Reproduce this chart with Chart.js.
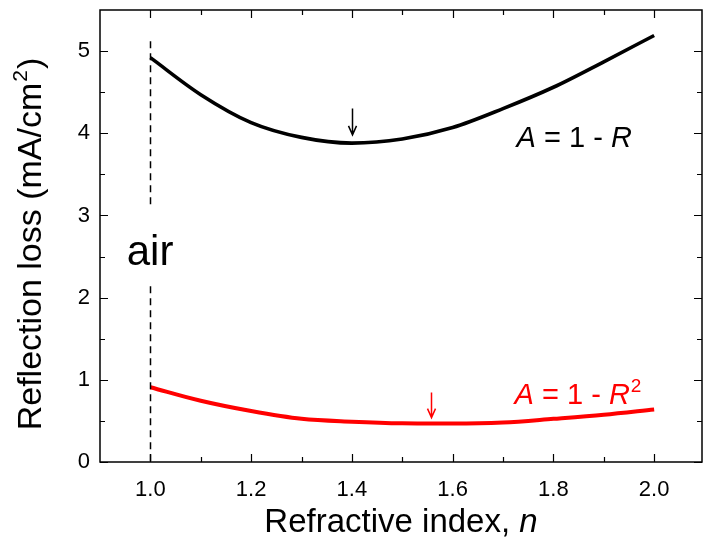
<!DOCTYPE html>
<html>
<head>
<meta charset="utf-8">
<script src="https://cdn.jsdelivr.net/npm/chart.js@4"></script>
<style>
  html, body { margin: 0; padding: 0; background: #fff; }
  #wrap { width: 703px; height: 548px; }
</style>
</head>
<body>
<div id="wrap"><canvas id="lossChart" width="703" height="548"></canvas></div>
<script>
// data
const refractiveIndex = [1.0, 1.1, 1.2, 1.3, 1.4, 1.5, 1.6, 1.7, 1.8, 1.9, 2.0]
const lossOneMinusR = [4.92, 4.47, 4.13, 3.95, 3.88, 3.93, 4.07, 4.3, 4.56, 4.87, 5.19]
const lossOneMinusR2 = [0.91, 0.745, 0.62, 0.525, 0.49, 0.47, 0.467, 0.48, 0.525, 0.575, 0.64]

const xTickValues = [1.0, 1.2, 1.4, 1.6, 1.8, 2.0]
const xMinorValues = [1.1, 1.3, 1.5, 1.7, 1.9]
const yTickValues = [0, 1, 2, 3, 4, 5]
const yMinorValues = [0.5, 1.5, 2.5, 3.5, 4.5]

// annotations (data coordinates)
const airLineX = 1.0
const airLineSegments = [[5.12, 3.08], [2.14, 0]]
const airLabel = { x: 0.953, y: 2.4 }
const blackArrow = { x: 1.4, from: 4.3, to: 3.98 }
const redArrow = { x: 1.558, from: 0.845, to: 0.54 }
const blackLabel = { x: 1.727, y: 3.83 }
const redLabel = { x: 1.723, y: 0.71 }

const FONT = "'Liberation Sans', Arial, sans-serif"

const toPoints = (ys) => refractiveIndex.map((n, i) => ({ x: n, y: ys[i] }))

// frame, inward ticks and text notes
const framePlugin = {
  id: 'frame',
  afterDraw(chart) {
    const { ctx, chartArea: a, scales } = chart
    const xs = scales.x
    const ys = scales.y
    ctx.save()
    ctx.strokeStyle = '#000'
    ctx.lineWidth = 1.5
    ctx.strokeRect(a.left, a.top, a.right - a.left, a.bottom - a.top)

    const tickX = (v, len) => {
      const px = Math.round(xs.getPixelForValue(v)) + 0.5
      ctx.beginPath()
      ctx.moveTo(px, a.bottom); ctx.lineTo(px, a.bottom - len)
      ctx.moveTo(px, a.top); ctx.lineTo(px, a.top + len)
      ctx.stroke()
    }
    const tickY = (v, len) => {
      const py = Math.round(ys.getPixelForValue(v)) + 0.5
      ctx.beginPath()
      ctx.moveTo(a.left, py); ctx.lineTo(a.left + len, py)
      ctx.moveTo(a.right, py); ctx.lineTo(a.right - len, py)
      ctx.stroke()
    }
    ctx.lineWidth = 1.2
    xTickValues.forEach((v) => tickX(v, 8))
    xMinorValues.forEach((v) => tickX(v, 5))
    yTickValues.forEach((v) => tickY(v, 8))
    yMinorValues.forEach((v) => tickY(v, 5))

    // dashed air line
    ctx.setLineDash([7, 5])
    ctx.lineWidth = 1.5
    const ax = Math.round(xs.getPixelForValue(airLineX)) + 0.5
    airLineSegments.forEach(([y0, y1]) => {
      ctx.beginPath()
      ctx.moveTo(ax, ys.getPixelForValue(y0))
      ctx.lineTo(ax, ys.getPixelForValue(y1))
      ctx.stroke()
    })
    ctx.setLineDash([])

    // arrows
    const drawArrow = (arr, color) => {
      const px = Math.round(xs.getPixelForValue(arr.x)) + 0.5
      const p0 = ys.getPixelForValue(arr.from)
      const p1 = ys.getPixelForValue(arr.to)
      ctx.strokeStyle = color
      ctx.lineWidth = 1.5
      ctx.beginPath()
      ctx.moveTo(px, p0); ctx.lineTo(px, p1)
      ctx.moveTo(px - 4, p1 - 9); ctx.lineTo(px, p1); ctx.lineTo(px + 4, p1 - 9)
      ctx.stroke()
    }
    drawArrow(blackArrow, '#000')
    drawArrow(redArrow, '#ff0000')

    // text notes
    ctx.textBaseline = 'alphabetic'
    ctx.textAlign = 'left'
    ctx.fillStyle = '#000'
    ctx.font = `42px ${FONT}`
    ctx.fillText('air', xs.getPixelForValue(airLabel.x), ys.getPixelForValue(airLabel.y))

    const drawFormula = (pos, color, squared) => {
      let x = xs.getPixelForValue(pos.x)
      const y = ys.getPixelForValue(pos.y)
      const parts = [
        ['A', 'italic'],
        [' = 1 - ', 'normal'],
        ['R', 'italic'],
      ]
      ctx.fillStyle = color
      parts.forEach(([t, style]) => {
        ctx.font = `${style} 29px ${FONT}`
        ctx.fillText(t, x, y)
        x += ctx.measureText(t).width
      })
      if (squared) {
        ctx.font = `19px ${FONT}`
        ctx.fillText('2', x + 1, y - 12)
      }
    }
    drawFormula(blackLabel, '#000', false)
    drawFormula(redLabel, '#ff0000', true)

    // axis titles
    ctx.fillStyle = '#000'
    const xt1 = 'Refractive index, '
    ctx.font = `33px ${FONT}`
    const w1 = ctx.measureText(xt1).width
    ctx.font = `italic 33px ${FONT}`
    const w2 = ctx.measureText('n').width
    const tx = 401 - (w1 + w2) / 2
    ctx.font = `33px ${FONT}`
    ctx.fillText(xt1, tx, 532)
    ctx.font = `italic 33px ${FONT}`
    ctx.fillText('n', tx + w1, 532)

    ctx.translate(41, 245)
    ctx.rotate(-Math.PI / 2)
    ctx.font = `34px ${FONT}`
    const yt1 = 'Reflection loss (mA/cm'
    const yw1 = ctx.measureText(yt1).width
    ctx.font = `21px ${FONT}`
    const yw2 = ctx.measureText('2').width
    ctx.font = `34px ${FONT}`
    const yw3 = ctx.measureText(')').width
    const sx = -(yw1 + yw2 + yw3) / 2
    ctx.fillText(yt1, sx, 0)
    ctx.font = `21px ${FONT}`
    ctx.fillText('2', sx + yw1 + 1, -14)
    ctx.font = `34px ${FONT}`
    ctx.fillText(')', sx + yw1 + yw2 + 2, 0)
    ctx.restore()
  },
}

const lossChart = new Chart(document.getElementById('lossChart'), {
  type: 'scatter',
  data: {
    datasets: [
      {
        label: 'A = 1 - R',
        data: toPoints(lossOneMinusR),
        showLine: true,
        borderColor: '#000',
        borderWidth: 3.6,
        pointRadius: 0,
        cubicInterpolationMode: 'monotone',
      },
      {
        label: 'A = 1 - R^2',
        data: toPoints(lossOneMinusR2),
        showLine: true,
        borderColor: '#ff0000',
        borderWidth: 4,
        pointRadius: 0,
        cubicInterpolationMode: 'monotone',
      },
    ],
  },
  options: {
    responsive: false,
    animation: false,
    layout: { padding: { top: 10, right: 1, left: 0, bottom: 0 } },
    plugins: { legend: { display: false }, tooltip: { enabled: false } },
    scales: {
      x: {
        type: 'linear',
        min: 0.9,
        max: 2.095,
        afterBuildTicks: (scale) => {
          scale.ticks = xTickValues.map((v) => ({ value: v }))
        },
        afterFit: (scale) => {
          scale.height = 86
          scale.paddingLeft = 0
          scale.paddingRight = 0
        },
        grid: { display: false, drawTicks: false },
        border: { display: false },
        ticks: {
          color: '#000',
          padding: 15,
          maxRotation: 0,
          font: { family: FONT, size: 22 },
          callback: (v) => Number(v).toFixed(1),
        },
      },
      y: {
        min: 0,
        max: 5.5,
        afterBuildTicks: (scale) => {
          scale.ticks = yTickValues.map((v) => ({ value: v }))
        },
        afterFit: (scale) => {
          scale.width = 100
          scale.paddingTop = 0
          scale.paddingBottom = 0
        },
        grid: { display: false, drawTicks: false },
        border: { display: false },
        ticks: {
          color: '#000',
          padding: 10,
          font: { family: FONT, size: 22 },
          callback: (v) => String(v),
        },
      },
    },
  },
  plugins: [framePlugin],
})
</script>
</body>
</html>
